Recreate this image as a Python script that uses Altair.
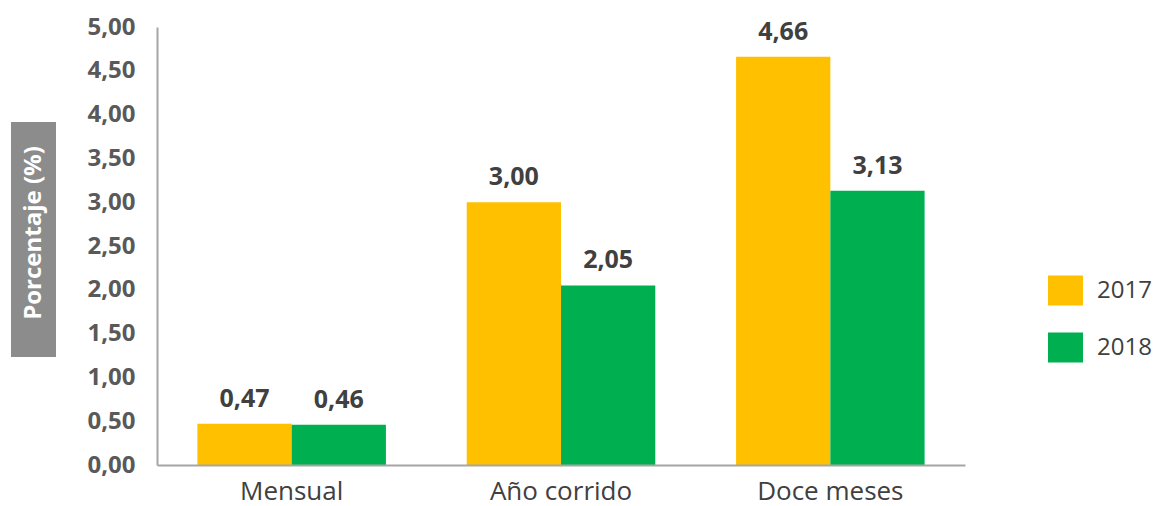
import altair as alt
import pandas as pd

categories = ["Mensual", "Año corrido", "Doce meses"]
years = ["2017", "2018"]
values_2017 = [0.47, 3.00, 4.66]
values_2018 = [0.46, 2.05, 3.13]
y_ticks = [0, 0.5, 1, 1.5, 2, 2.5, 3, 3.5, 4, 4.5, 5]

rows = []
for c, v17, v18 in zip(categories, values_2017, values_2018):
    rows.append({"cat": c, "year": "2017", "val": v17, "lbl": f"{v17:.2f}".replace(".", ",")})
    rows.append({"cat": c, "year": "2018", "val": v18, "lbl": f"{v18:.2f}".replace(".", ",")})
df = pd.DataFrame(rows)

FONT = "Open Sans"

x = alt.X("cat:N", sort=categories, title=None,
          scale=alt.Scale(paddingInner=0.3, paddingOuter=0.15),
          axis=alt.Axis(labelAngle=0, labelFontSize=26, labelColor="#404040",
                        labelFont=FONT, labelPadding=13, ticks=False,
                        domainColor="#a6a6a6", domainWidth=2, zindex=1))
y = alt.Y("val:Q", title=None,
          scale=alt.Scale(domain=[0, 5]),
          axis=alt.Axis(values=y_ticks, grid=False, ticks=False,
                        labelExpr="replace(format(datum.value, '.2f'), '.', ',')",
                        labelFontSize=24, labelFontWeight="bold", labelColor="#595959",
                        labelFont=FONT, labelPadding=22,
                        domainColor="#a6a6a6", domainWidth=2, zindex=1))
xoff = alt.XOffset("year:N", sort=years)

base = alt.Chart(df)

bars = base.mark_bar().encode(
    x=x, y=y, xOffset=xoff,
    color=alt.Color("year:N", sort=years,
                    scale=alt.Scale(domain=years, range=["#FFC000", "#00B050"]),
                    legend=alt.Legend(title=None, orient="none", legendX=891, legendY=246,
                                      symbolType="M-1,-0.857H1V0.857H-1Z", symbolSize=1225,
                                      symbolStrokeWidth=0, labelFontSize=24, labelColor="#404040",
                                      labelFont=FONT, labelOffset=14, rowPadding=24)),
)

labels = base.mark_text(baseline="alphabetic", dy=-17, fontSize=25, fontWeight="bold",
                        color="#404040", font=FONT).encode(
    x=x, y=y, xOffset=xoff, text="lbl:N"
)

title_df = pd.DataFrame({"t": ["Porcentaje (%)"]})
title_box = alt.Chart(title_df).mark_rect(color="#8c8c8c").encode(
    x=alt.value(-146), x2=alt.value(-101), y=alt.value(95), y2=alt.value(330)
)
title_text = alt.Chart(title_df).mark_text(angle=270, fontSize=24, fontWeight="bold",
                                           color="white", font=FONT, align="center",
                                           baseline="middle").encode(
    x=alt.value(-123), y=alt.value(206), text="t:N"
)

chart = alt.layer(bars, labels, title_box, title_text).properties(
    width=808, height=438,
    autosize=alt.AutoSizeParams(type="none"),
    padding={"left": 149, "top": 19, "right": 189, "bottom": 41},
).configure(font=FONT).configure_view(stroke=None, strokeWidth=0)

chart.save("out.html", embed_options={"renderer": "svg", "actions": False})
